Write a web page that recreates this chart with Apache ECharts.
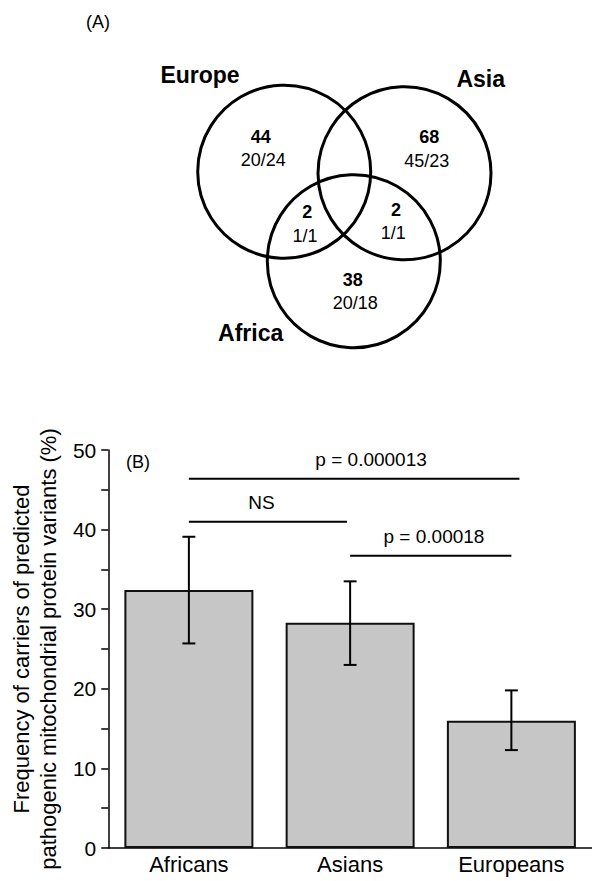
<!DOCTYPE html>
<html>
<head>
<meta charset="utf-8">
<style>
    html, body { margin: 0; padding: 0; background: #fff; }
    #chart { width: 592px; height: 881px; }
</style>
<script src="https://cdn.jsdelivr.net/npm/echarts@6.0.0/dist/echarts.min.js"></script>
</head>
<body>
<div id="chart"></div>
<script>
// ---- panel B data ----
const categories = ["Africans", "Asians", "Europeans"];
const frequency = [32.4, 28.3, 16.0];
const errLow = [25.7, 23.0, 12.3];
const errHigh = [39.1, 33.5, 19.8];
const yTicks = [0, 10, 20, 30, 40, 50];

// pairwise comparisons: [from, to] category index, bracket level, label
const compPairs = [[0, 2.05], [0, 0.98], [1, 2]];
const compLevels = [46.4, 41.0, 36.7];
const compLabels = ["p = 0.000013", "NS", "p = 0.00018"];
const compLabelX = [1.13, 0.45, 1.52];

// ---- panel A data (Venn) ----
const vennSets = ["Europe", "Asia", "Africa"];
const vennCounts = ["44", "68", "38", "2", "2"];
const vennSplits = ["20/24", "45/23", "20/18", "1/1", "1/1"];

// Venn layout in diagram units (1 unit = 10px)
const vennCircles = [[22.42, 17.17, 8.65], [34.45, 17.33, 8.65], [29.38, 26.12, 8.65]];
const vennSetPos = [[14.0, 7.5], [42.07, 7.9], [19.07, 33.33]];
const vennCountPos = [[20.07, 13.67], [36.93, 13.73], [29.27, 28.0], [24.73, 21.2], [33.6, 21.0]];
const vennSplitPos = [[20.33, 16.0], [36.67, 16.1], [29.53, 30.33], [24.5, 23.6], [33.33, 23.33]];

const FONT = "Liberation Sans, Arial, Helvetica, sans-serif";

const chart = echarts.init(document.getElementById("chart"), null, { renderer: "svg" });

const vennText = [];
vennSets.forEach((s, i) => vennText.push([vennSetPos[i][0], vennSetPos[i][1], s, 23, "bold"]));
vennCounts.forEach((s, i) => vennText.push([vennCountPos[i][0], vennCountPos[i][1], s, 18, "bold"]));
vennSplits.forEach((s, i) => vennText.push([vennSplitPos[i][0], vennSplitPos[i][1], s, 18, "normal"]));

const option = {
    animation: false,
    backgroundColor: "#fff",
    textStyle: { fontFamily: FONT, color: "#000" },
    graphic: [
        { type: "text", left: 86, top: 13, style: { text: "(A)", font: "18px " + FONT, fill: "#000" } },
        { type: "text", left: 126, top: 453, style: { text: "(B)", font: "18px " + FONT, fill: "#000" } }
    ],
    grid: [
        { left: 107, top: 450, width: 489, height: 398 },
        { left: 60, top: 0, width: 480, height: 360 }
    ],
    xAxis: [
        {
            type: "category",
            gridIndex: 0,
            data: categories,
            axisLine: { onZero: false, lineStyle: { color: "#000", width: 1.5 } },
            axisTick: { show: false },
            axisLabel: { color: "#000", fontSize: 22, margin: 5, fontFamily: FONT }
        },
        // overlay value axis so brackets can sit between categories
        { type: "value", gridIndex: 0, min: -0.5, max: 2.5, show: false },
        { type: "value", gridIndex: 1, min: 0, max: 48, show: false }
    ],
    yAxis: [
        {
            type: "value",
            gridIndex: 0,
            min: yTicks[0],
            max: yTicks[yTicks.length - 1],
            interval: 10,
            name: "Frequency of carriers of predicted\npathogenic mitochondrial protein variants (%)",
            nameLocation: "middle",
            nameRotate: 90,
            nameGap: 42,
            nameTextStyle: { fontSize: 22, lineHeight: 27, color: "#000", fontFamily: FONT },
            axisLine: { show: true, onZero: false, lineStyle: { color: "#000", width: 1.5 } },
            axisTick: { show: true, inside: false, length: 7, lineStyle: { color: "#000", width: 1.5 } },
            minorTick: { show: true, splitNumber: 2, length: 7, lineStyle: { color: "#000", width: 1.5 } },
            splitLine: { show: false },
            axisLabel: { color: "#000", fontSize: 21, margin: 12, fontFamily: FONT }
        },
        { type: "value", gridIndex: 1, min: 0, max: 36, inverse: true, show: false }
    ],
    series: [
        {
            type: "bar",
            xAxisIndex: 0,
            yAxisIndex: 0,
            data: frequency,
            barCategoryGap: "20%",
            itemStyle: { color: "#c6c6c6", borderColor: "#111", borderWidth: 2 }
        },
        {
            // error bars
            type: "custom",
            xAxisIndex: 0,
            yAxisIndex: 0,
            z: 5,
            data: categories.map((c, i) => [i, errLow[i], errHigh[i]]),
            encode: { x: 0, y: [1, 2] },
            renderItem: function (params, api) {
                const idx = api.value(0);
                const lo = api.coord([idx, api.value(1)]);
                const hi = api.coord([idx, api.value(2)]);
                const half = api.size([1, 0])[0] * 0.04;
                const st = { stroke: "#000", lineWidth: 2 };
                return {
                    type: "group",
                    children: [
                        { type: "line", shape: { x1: lo[0], y1: lo[1], x2: hi[0], y2: hi[1] }, style: st },
                        { type: "line", shape: { x1: lo[0] - half, y1: lo[1], x2: lo[0] + half, y2: lo[1] }, style: st },
                        { type: "line", shape: { x1: hi[0] - half, y1: hi[1], x2: hi[0] + half, y2: hi[1] }, style: st }
                    ]
                };
            }
        },
        {
            // significance brackets
            type: "custom",
            xAxisIndex: 1,
            yAxisIndex: 0,
            z: 5,
            data: compPairs.map((p, i) => [p[0], p[1], compLevels[i], compLabelX[i]]),
            encode: { x: [0, 1, 3], y: 2 },
            renderItem: function (params, api) {
                const i = params.dataIndex;
                const a = api.coord([api.value(0), api.value(2)]);
                const b = api.coord([api.value(1), api.value(2)]);
                const t = api.coord([api.value(3), api.value(2)]);
                return {
                    type: "group",
                    children: [
                        { type: "line", shape: { x1: a[0], y1: a[1], x2: b[0], y2: b[1] }, style: { stroke: "#000", lineWidth: 2 } },
                        {
                            type: "text",
                            style: {
                                text: compLabels[i],
                                x: t[0],
                                y: t[1] - 19,
                                align: "center",
                                verticalAlign: "middle",
                                font: "19px " + FONT,
                                fill: "#000"
                            }
                        }
                    ]
                };
            }
        },
        {
            // Venn circles
            type: "custom",
            xAxisIndex: 2,
            yAxisIndex: 1,
            data: vennCircles,
            renderItem: function (params, api) {
                const c = api.coord([api.value(0), api.value(1)]);
                const r = api.size([api.value(2), 0])[0];
                return {
                    type: "circle",
                    shape: { cx: c[0], cy: c[1], r: r },
                    style: { fill: "none", stroke: "#000", lineWidth: 3 }
                };
            }
        },
        {
            // Venn labels
            type: "custom",
            xAxisIndex: 2,
            yAxisIndex: 1,
            z: 5,
            data: vennText,
            renderItem: function (params, api) {
                const d = vennText[params.dataIndex];
                const c = api.coord([d[0], d[1]]);
                return {
                    type: "text",
                    style: {
                        text: d[2],
                        x: c[0],
                        y: c[1],
                        align: "center",
                        verticalAlign: "middle",
                        font: d[4] + " " + d[3] + "px " + FONT,
                        fill: "#000"
                    }
                };
            }
        }
    ]
};

chart.setOption(option);
</script>
</body>
</html>
